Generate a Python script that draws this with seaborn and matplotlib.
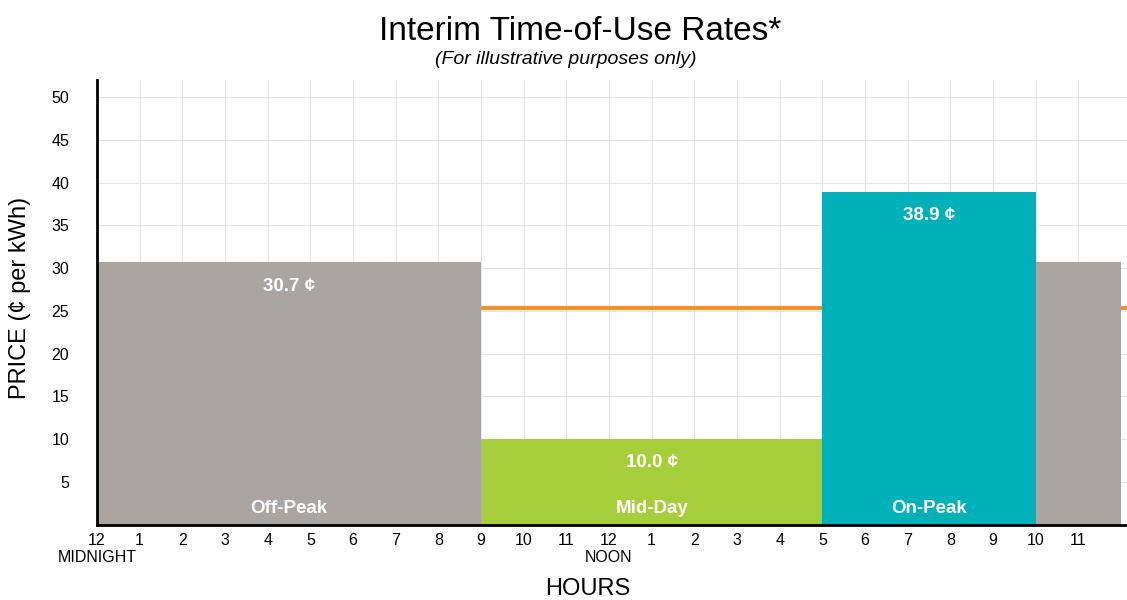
import matplotlib
matplotlib.use("Agg")
import matplotlib.pyplot as plt
import matplotlib.transforms as mtransforms
import seaborn as sns

# ---- data ----
period_start = [0, 9, 17, 22]
period_end = [9, 17, 22, 24]
prices = [30.7, 10.0, 38.9, 30.7]
value_labels = ["30.7 ¢", "10.0 ¢", "38.9 ¢", ""]
period_names = ["Off-Peak", "Mid-Day", "On-Peak", ""]
period_colors = ["#aaa5a1", "#a6cd3a", "#00b1ba", "#aaa5a1"]
average_price = 25.3
hour_ticks = list(range(24))
hour_labels = ["12", "1", "2", "3", "4", "5", "6", "7", "8", "9", "10", "11",
               "12", "1", "2", "3", "4", "5", "6", "7", "8", "9", "10", "11"]
price_ticks = [5, 10, 15, 20, 25, 30, 35, 40, 45, 50]

sns.set_theme(style="white")
plt.rcParams["font.family"] = ["Liberation Sans", "DejaVu Sans"]
plt.rcParams["text.color"] = "black"
plt.rcParams["xtick.color"] = "black"
plt.rcParams["ytick.color"] = "black"

W, H = 1127, 600
fig = plt.figure(figsize=(W / 100, H / 100), dpi=100)
ax = fig.add_axes([97 / W, 75.5 / H, (W - 97) / W, 444.5 / H])

widths = [e - s for s, e in zip(period_start, period_end)]
ax.bar(period_start, prices, width=widths, align="edge", color=period_colors,
       linewidth=0, zorder=2)

sns.lineplot(x=[0, 24.2], y=[average_price, average_price], ax=ax,
             color="#f0912a", linewidth=3, zorder=1)

for s, e, p, vl, nm in zip(period_start, period_end, prices, value_labels, period_names):
    mid = (s + e) / 2
    if vl:
        ax.text(mid, p - 2.8, vl, ha="center", va="center", color="white",
                fontsize=13.5, fontweight="bold", zorder=3)
    if nm:
        ax.text(mid, 1.9, nm, ha="center", va="center", color="white",
                fontsize=13.5, fontweight="bold", zorder=3)

ax.set_xlim(0, (W - 97) / (384 / 9))
ax.set_ylim(0, 52)
ax.set_xticks(hour_ticks)
ax.set_xticklabels(hour_labels, fontsize=11.5)
ax.set_yticks(price_ticks)
ax.set_yticklabels([str(v) for v in price_ticks], fontsize=11.5)
ax.tick_params(axis="both", length=0, pad=6)
ax.tick_params(axis="y", pad=20)

ax.grid(True, color="#e4e4e4", linewidth=0.8, zorder=0)
ax.set_axisbelow(True)
for side in ["top", "right"]:
    ax.spines[side].set_visible(False)
for side in ["left", "bottom"]:
    ax.spines[side].set_color("black")
    ax.spines[side].set_linewidth(2)
    ax.spines[side].set_zorder(4)

trans = mtransforms.blended_transform_factory(ax.transData, fig.transFigure)
ax.text(0, 1 - 557 / H, "MIDNIGHT", transform=trans, ha="center", va="center", fontsize=11.5)
ax.text(12, 1 - 557 / H, "NOON", transform=trans, ha="center", va="center", fontsize=11.5)
ax.text(11.5, 1 - 589 / H, "HOURS", transform=trans, ha="center", va="center", fontsize=17)

fig.text(20 / W, 1 - 298 / H, "PRICE (¢ per kWh)", rotation=90, ha="center",
         va="center", fontsize=17)
fig.text(580 / W, 1 - 31 / H, "Interim Time-of-Use Rates*", ha="center",
         va="center", fontsize=24)
fig.text(566 / W, 1 - 59 / H, "(For illustrative purposes only)", ha="center",
         va="center", fontsize=14, style="italic")

fig.savefig("out.png", dpi=100)
